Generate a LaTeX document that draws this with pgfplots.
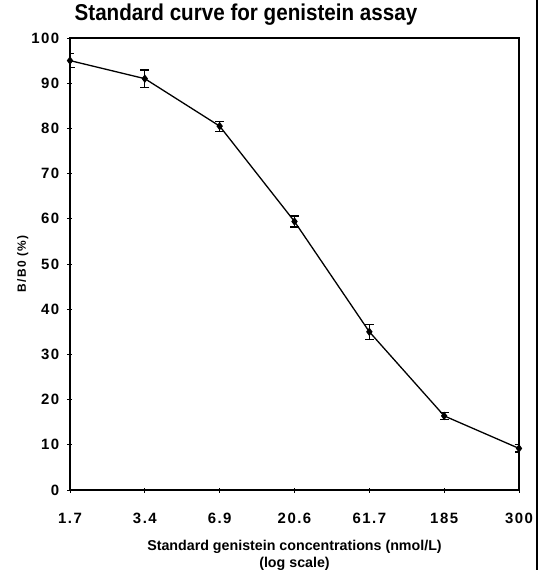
\documentclass[border=0pt]{standalone}
\usepackage{fontspec}
\setmainfont{Liberation Sans}
\newfontfamily\titlefont[FakeStretch=0.9]{Liberation Sans}
\usepackage{pgfplots}
\pgfplotsset{compat=1.18}

\begin{document}
\begin{tikzpicture}[x=1bp,y=1bp]
\path[use as bounding box] (-70,-80) rectangle (478,490);
\draw[line width=1.8bp] (467,-80) -- (467,490);
\begin{axis}[
    at={(0,0)}, anchor=south west,
    scale only axis, width=449bp, height=452bp,
    xmin=0, xmax=6, ymin=0, ymax=100,
    xtick={0,...,6},
    xticklabels={1.7,3.4,6.9,20.6,61.7,185,300},
    ytick={0,10,...,100},
    xtick pos=bottom, ytick pos=left,
    tick align=center, major tick length=5bp,
    tick style={line width=0.8bp, black},
    axis line style={line width=1.4bp},
    /pgf/number format/assume math mode=true,
    ticklabel style={font=\bfseries\fontsize{15}{15}\selectfont\addfontfeature{LetterSpace=10}, inner sep=0pt},
    xticklabel style={anchor=base, yshift=-31bp},
    yticklabel style={anchor=east, xshift=-8bp},
    title={Standard curve for genistein assay},
    title style={font=\titlefont\bfseries\fontsize{23}{24}\selectfont,
        at={(axis description cs:0.392,1)}, anchor=base, yshift=12bp, inner sep=0pt},
    xlabel={Standard genistein concentrations (nmol/L)\\(log scale)},
    xlabel style={font=\bfseries\fontsize{14.3}{17}\selectfont, align=center,
        at={(axis description cs:0.5,0)}, anchor=north, yshift=-50bp, inner sep=0pt},
    ylabel={B/B0 (\%)},
    ylabel style={font=\bfseries\fontsize{12}{12}\selectfont\addfontfeature{LetterSpace=10},
        at={(axis description cs:-0.105,0.5)}, anchor=center, inner sep=0pt},
]
\addplot[black, line width=1.3bp, mark=diamond*, mark size=3.2bp,
    error bars/.cd, y dir=both, y explicit,
    error mark=-,
    error mark options={rotate=90, line width=1.2bp, mark size=4.5bp},
    error bar style={line width=1bp}]
    table[x=x, y=y, y error=e] {
x y e
0 95.0 1.5
1 91.0 1.9
2 80.5 1.1
3 59.4 1.2
4 35.0 1.7
5 16.4 0.8
6 9.2 0.8
};
\end{axis}
\end{tikzpicture}
\end{document}
